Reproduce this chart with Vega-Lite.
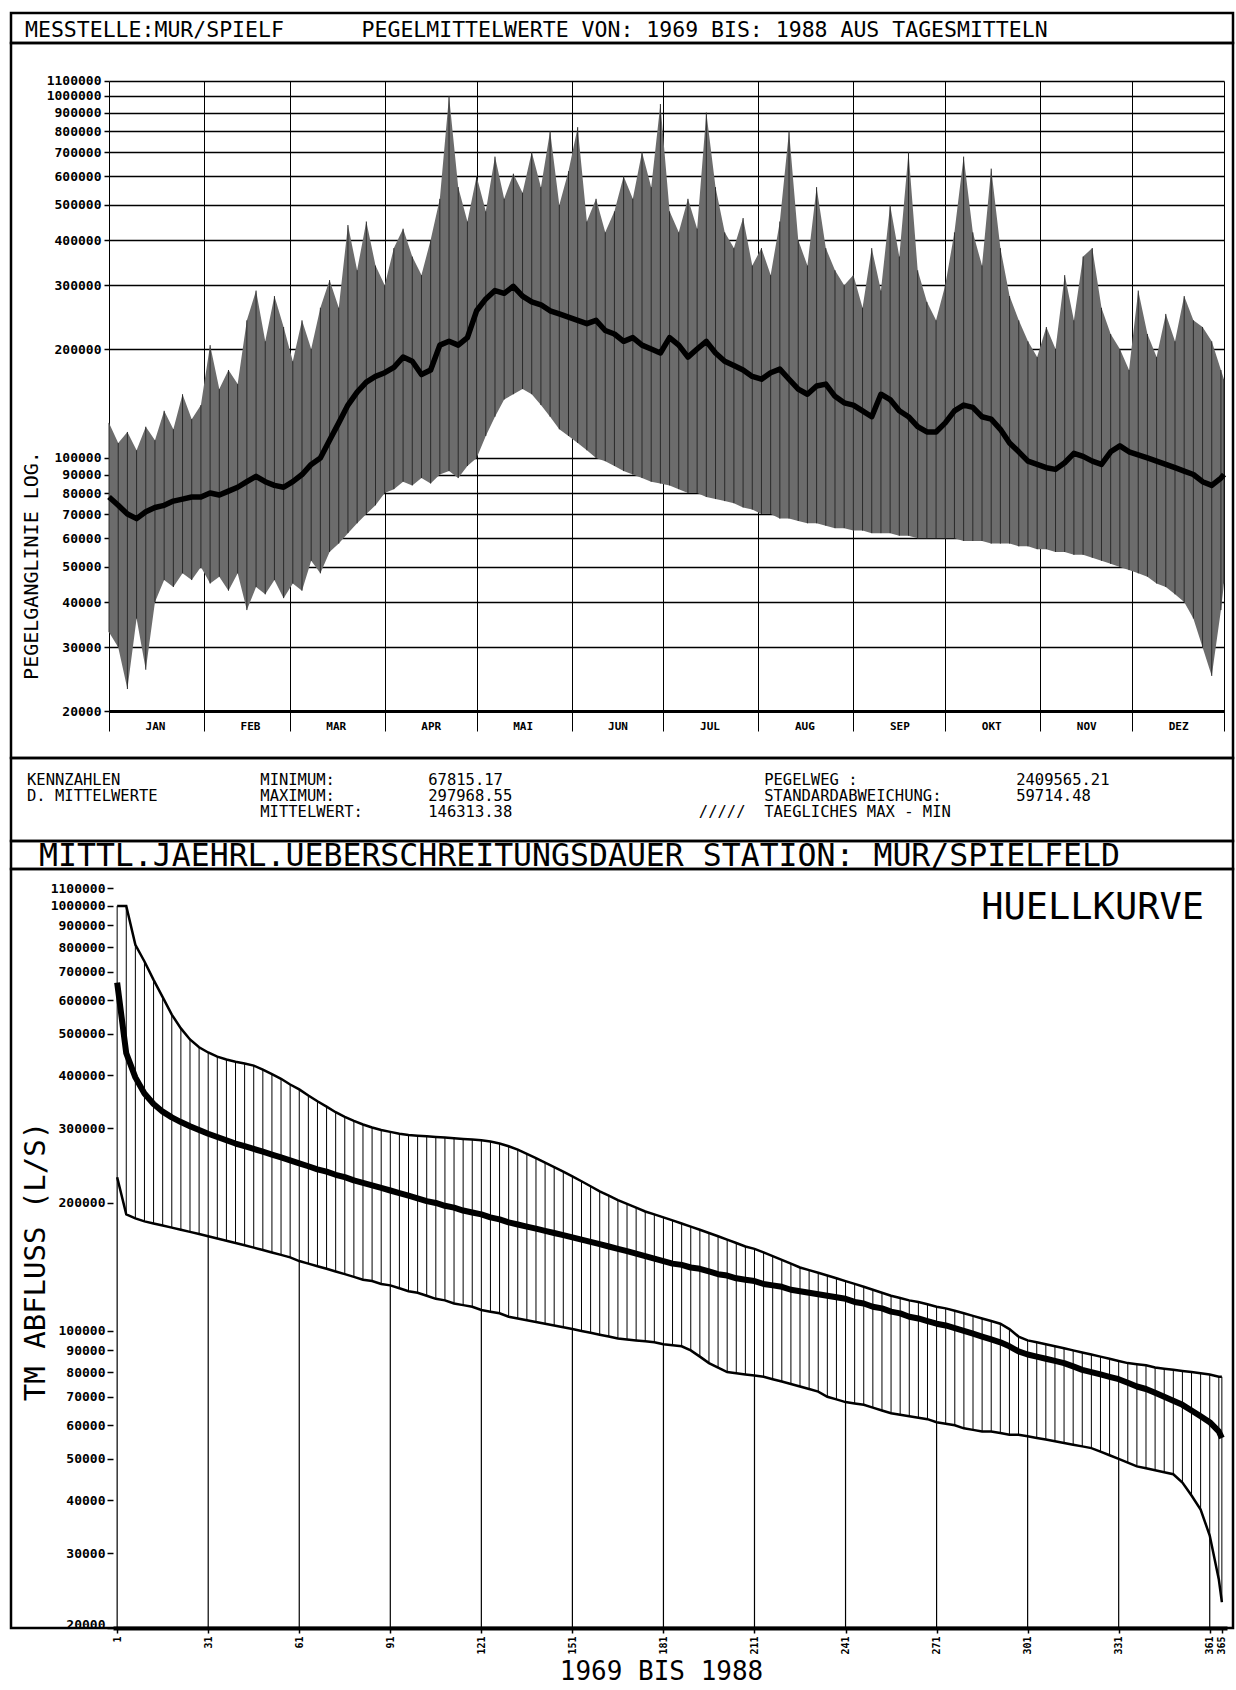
{
  "$schema": "https://vega.github.io/schema/vega-lite/v6.json",
  "background": "white",
  "padding": {"left": 9, "top": 11, "right": 0, "bottom": 0},
  "spacing": 0,
  "bounds": "flush",
  "config": {
    "view": {"stroke": "black", "strokeWidth": 2.5},
    "font": "DejaVu Sans Mono",
    "axis": {"labelFont": "DejaVu Sans Mono", "labelFontWeight": "bold", "labelColor": "black", "tickColor": "black", "tickWidth": 1.5, "titleFont": "DejaVu Sans Mono", "titleFontWeight": "normal", "titleColor": "black", "grid": false, "domain": false, "labelOverlap": false}
  },
  "datasets": {
    "top": [
      {"d":1,"lo":33000,"hi":125000,"m":78000},{"d":4,"lo":30000,"hi":110000,"m":74000},{"d":7,"lo":23000,"hi":118000,"m":70000},{"d":10,"lo":36000,"hi":105000,"m":68000},
      {"d":13,"lo":26000,"hi":122000,"m":71000},{"d":16,"lo":40000,"hi":112000,"m":73000},{"d":19,"lo":46000,"hi":135000,"m":74000},{"d":22,"lo":44000,"hi":120000,"m":76000},
      {"d":25,"lo":48000,"hi":150000,"m":77000},{"d":28,"lo":46000,"hi":128000,"m":78000},{"d":31,"lo":50000,"hi":140000,"m":78000},{"d":34,"lo":45000,"hi":205000,"m":80000},
      {"d":37,"lo":47000,"hi":155000,"m":79000},{"d":40,"lo":43000,"hi":175000,"m":81000},{"d":43,"lo":48000,"hi":160000,"m":83000},{"d":46,"lo":38000,"hi":240000,"m":86000},
      {"d":49,"lo":44000,"hi":290000,"m":89000},{"d":52,"lo":42000,"hi":210000,"m":86000},{"d":55,"lo":46000,"hi":280000,"m":84000},{"d":58,"lo":41000,"hi":230000,"m":83000},
      {"d":61,"lo":45000,"hi":185000,"m":86000},{"d":64,"lo":43000,"hi":240000,"m":90000},{"d":67,"lo":52000,"hi":200000,"m":96000},{"d":70,"lo":48000,"hi":260000,"m":100000},
      {"d":73,"lo":55000,"hi":310000,"m":112000},{"d":76,"lo":58000,"hi":260000,"m":125000},{"d":79,"lo":62000,"hi":440000,"m":140000},{"d":82,"lo":66000,"hi":330000,"m":152000},
      {"d":85,"lo":70000,"hi":450000,"m":162000},{"d":88,"lo":74000,"hi":340000,"m":168000},{"d":91,"lo":80000,"hi":300000,"m":172000},{"d":94,"lo":82000,"hi":380000,"m":178000},
      {"d":97,"lo":86000,"hi":430000,"m":190000},{"d":100,"lo":84000,"hi":360000,"m":185000},{"d":103,"lo":88000,"hi":320000,"m":170000},{"d":106,"lo":85000,"hi":400000,"m":175000},
      {"d":109,"lo":90000,"hi":520000,"m":205000},{"d":112,"lo":92000,"hi":1000000,"m":210000},{"d":115,"lo":88000,"hi":560000,"m":205000},{"d":118,"lo":95000,"hi":450000,"m":215000},
      {"d":121,"lo":100000,"hi":600000,"m":255000},{"d":124,"lo":115000,"hi":480000,"m":275000},{"d":127,"lo":130000,"hi":680000,"m":290000},{"d":130,"lo":145000,"hi":520000,"m":285000},
      {"d":133,"lo":150000,"hi":610000,"m":298000},{"d":136,"lo":155000,"hi":540000,"m":280000},{"d":139,"lo":150000,"hi":700000,"m":270000},{"d":142,"lo":140000,"hi":560000,"m":265000},
      {"d":145,"lo":130000,"hi":800000,"m":255000},{"d":148,"lo":120000,"hi":500000,"m":250000},{"d":151,"lo":115000,"hi":620000,"m":245000},{"d":154,"lo":110000,"hi":820000,"m":240000},
      {"d":157,"lo":105000,"hi":450000,"m":235000},{"d":160,"lo":100000,"hi":520000,"m":240000},{"d":163,"lo":98000,"hi":420000,"m":225000},{"d":166,"lo":95000,"hi":480000,"m":220000},
      {"d":169,"lo":92000,"hi":600000,"m":210000},{"d":172,"lo":90000,"hi":520000,"m":215000},{"d":175,"lo":88000,"hi":700000,"m":205000},{"d":178,"lo":86000,"hi":560000,"m":200000},
      {"d":181,"lo":85000,"hi":950000,"m":195000},{"d":184,"lo":84000,"hi":480000,"m":215000},{"d":187,"lo":82000,"hi":420000,"m":205000},{"d":190,"lo":80000,"hi":520000,"m":190000},
      {"d":193,"lo":80000,"hi":430000,"m":200000},{"d":196,"lo":78000,"hi":900000,"m":210000},{"d":199,"lo":77000,"hi":560000,"m":195000},{"d":202,"lo":76000,"hi":420000,"m":185000},
      {"d":205,"lo":75000,"hi":380000,"m":180000},{"d":208,"lo":73000,"hi":460000,"m":175000},{"d":211,"lo":72000,"hi":340000,"m":168000},{"d":214,"lo":70000,"hi":380000,"m":165000},
      {"d":217,"lo":70000,"hi":320000,"m":172000},{"d":220,"lo":68000,"hi":450000,"m":176000},{"d":223,"lo":68000,"hi":800000,"m":165000},{"d":226,"lo":67000,"hi":400000,"m":155000},
      {"d":229,"lo":66000,"hi":340000,"m":150000},{"d":232,"lo":66000,"hi":560000,"m":158000},{"d":235,"lo":65000,"hi":380000,"m":160000},{"d":238,"lo":64000,"hi":330000,"m":148000},
      {"d":241,"lo":64000,"hi":300000,"m":142000},{"d":244,"lo":63000,"hi":320000,"m":140000},{"d":247,"lo":63000,"hi":260000,"m":135000},{"d":250,"lo":62000,"hi":380000,"m":130000},
      {"d":253,"lo":62000,"hi":290000,"m":150000},{"d":256,"lo":62000,"hi":500000,"m":145000},{"d":259,"lo":61000,"hi":360000,"m":135000},{"d":262,"lo":61000,"hi":700000,"m":130000},
      {"d":265,"lo":60000,"hi":330000,"m":122000},{"d":268,"lo":60000,"hi":270000,"m":118000},{"d":271,"lo":60000,"hi":240000,"m":118000},{"d":274,"lo":60000,"hi":300000,"m":125000},
      {"d":277,"lo":60000,"hi":420000,"m":135000},{"d":280,"lo":59000,"hi":680000,"m":140000},{"d":283,"lo":59000,"hi":420000,"m":138000},{"d":286,"lo":59000,"hi":340000,"m":130000},
      {"d":289,"lo":58000,"hi":630000,"m":128000},{"d":292,"lo":58000,"hi":380000,"m":120000},{"d":295,"lo":58000,"hi":280000,"m":110000},{"d":298,"lo":57000,"hi":240000,"m":104000},
      {"d":301,"lo":57000,"hi":210000,"m":98000},{"d":304,"lo":56000,"hi":190000,"m":96000},{"d":307,"lo":56000,"hi":230000,"m":94000},{"d":310,"lo":55000,"hi":200000,"m":93000},
      {"d":313,"lo":55000,"hi":320000,"m":97000},{"d":316,"lo":54000,"hi":240000,"m":103000},{"d":319,"lo":54000,"hi":360000,"m":101000},{"d":322,"lo":53000,"hi":380000,"m":98000},
      {"d":325,"lo":52000,"hi":260000,"m":96000},{"d":328,"lo":51000,"hi":220000,"m":104000},{"d":331,"lo":50000,"hi":200000,"m":108000},{"d":334,"lo":49000,"hi":175000,"m":104000},
      {"d":337,"lo":48000,"hi":290000,"m":102000},{"d":340,"lo":47000,"hi":220000,"m":100000},{"d":343,"lo":45000,"hi":190000,"m":98000},{"d":346,"lo":44000,"hi":250000,"m":96000},
      {"d":349,"lo":42000,"hi":210000,"m":94000},{"d":352,"lo":40000,"hi":280000,"m":92000},{"d":355,"lo":36000,"hi":240000,"m":90000},{"d":358,"lo":30000,"hi":230000,"m":86000},
      {"d":361,"lo":25000,"hi":210000,"m":84000},{"d":364,"lo":38000,"hi":175000,"m":88000},{"d":365,"lo":45000,"hi":165000,"m":90000}
    ],
    "dur": [
      {"d":1,"hi":1000000,"m":660000,"lo":230000},{"d":4,"hi":1000000,"m":450000,"lo":188000},{"d":7,"hi":810000,"m":395000,"lo":184000},{"d":10,"hi":740000,"m":362000,"lo":181000},
      {"d":13,"hi":670000,"m":342000,"lo":179000},{"d":16,"hi":610000,"m":328000,"lo":177000},{"d":19,"hi":555000,"m":318000,"lo":175000},{"d":22,"hi":515000,"m":310000,"lo":173000},
      {"d":25,"hi":485000,"m":303000,"lo":171000},{"d":28,"hi":465000,"m":297000,"lo":169000},{"d":31,"hi":452000,"m":291000,"lo":167000},{"d":34,"hi":442000,"m":286000,"lo":165000},
      {"d":37,"hi":435000,"m":281000,"lo":163000},{"d":40,"hi":430000,"m":276000,"lo":161000},{"d":43,"hi":426000,"m":272000,"lo":159000},{"d":46,"hi":421000,"m":268000,"lo":157000},
      {"d":49,"hi":412000,"m":264000,"lo":155000},{"d":52,"hi":402000,"m":260000,"lo":153000},{"d":55,"hi":392000,"m":256000,"lo":151000},{"d":58,"hi":380000,"m":252000,"lo":149000},
      {"d":61,"hi":370000,"m":248000,"lo":146000},{"d":64,"hi":358000,"m":244000,"lo":144000},{"d":67,"hi":347000,"m":240000,"lo":142000},{"d":70,"hi":337000,"m":237000,"lo":140000},
      {"d":73,"hi":327000,"m":233000,"lo":138000},{"d":76,"hi":319000,"m":230000,"lo":136000},{"d":79,"hi":312000,"m":226000,"lo":134000},{"d":82,"hi":306000,"m":223000,"lo":132000},
      {"d":85,"hi":301000,"m":220000,"lo":131000},{"d":88,"hi":297000,"m":217000,"lo":129000},{"d":91,"hi":294000,"m":214000,"lo":128000},{"d":94,"hi":291000,"m":211000,"lo":126000},
      {"d":97,"hi":289000,"m":208000,"lo":124000},{"d":100,"hi":288000,"m":205000,"lo":123000},{"d":103,"hi":287000,"m":202000,"lo":121000},{"d":106,"hi":286000,"m":200000,"lo":119000},
      {"d":109,"hi":285000,"m":197000,"lo":118000},{"d":112,"hi":284000,"m":195000,"lo":116000},{"d":115,"hi":283000,"m":192000,"lo":115000},{"d":118,"hi":282000,"m":190000,"lo":114000},
      {"d":121,"hi":281000,"m":188000,"lo":112000},{"d":124,"hi":279000,"m":185000,"lo":111000},{"d":127,"hi":276000,"m":183000,"lo":110000},{"d":130,"hi":272000,"m":180000,"lo":108000},
      {"d":133,"hi":267000,"m":178000,"lo":107000},{"d":136,"hi":261000,"m":176000,"lo":106000},{"d":139,"hi":255000,"m":174000,"lo":105000},{"d":142,"hi":249000,"m":172000,"lo":104000},
      {"d":145,"hi":243000,"m":170000,"lo":103000},{"d":148,"hi":237000,"m":168000,"lo":102000},{"d":151,"hi":231000,"m":166000,"lo":101000},{"d":154,"hi":225000,"m":164000,"lo":100000},
      {"d":157,"hi":219000,"m":162000,"lo":99000},{"d":160,"hi":213000,"m":160000,"lo":98000},{"d":163,"hi":208000,"m":158000,"lo":97000},{"d":166,"hi":203000,"m":156000,"lo":96000},
      {"d":169,"hi":199000,"m":154000,"lo":95500},{"d":172,"hi":195000,"m":152000,"lo":95000},{"d":175,"hi":191000,"m":150000,"lo":94500},{"d":178,"hi":188000,"m":148000,"lo":94000},
      {"d":181,"hi":185000,"m":146000,"lo":93000},{"d":184,"hi":182000,"m":144000,"lo":92500},{"d":187,"hi":179000,"m":143000,"lo":92000},{"d":190,"hi":176000,"m":141000,"lo":90000},
      {"d":193,"hi":173000,"m":140000,"lo":87000},{"d":196,"hi":170000,"m":138000,"lo":84000},{"d":199,"hi":167000,"m":136000,"lo":82000},{"d":202,"hi":164000,"m":135000,"lo":80000},
      {"d":205,"hi":161000,"m":133000,"lo":79500},{"d":208,"hi":158000,"m":132000,"lo":79000},{"d":211,"hi":156000,"m":131000,"lo":78500},{"d":214,"hi":153000,"m":129000,"lo":78000},
      {"d":217,"hi":150000,"m":128000,"lo":77000},{"d":220,"hi":147000,"m":127000,"lo":76000},{"d":223,"hi":144000,"m":125000,"lo":75000},{"d":226,"hi":141000,"m":124000,"lo":74000},
      {"d":229,"hi":139000,"m":123000,"lo":73000},{"d":232,"hi":137000,"m":122000,"lo":72000},{"d":235,"hi":135000,"m":121000,"lo":70000},{"d":238,"hi":133000,"m":120000,"lo":69000},
      {"d":241,"hi":131000,"m":119000,"lo":68000},{"d":244,"hi":129000,"m":117000,"lo":67500},{"d":247,"hi":127000,"m":116000,"lo":67000},{"d":250,"hi":125000,"m":114000,"lo":66000},
      {"d":253,"hi":123000,"m":113000,"lo":65000},{"d":256,"hi":121000,"m":111000,"lo":64000},{"d":259,"hi":119500,"m":110000,"lo":63500},{"d":262,"hi":118000,"m":108000,"lo":63000},
      {"d":265,"hi":117000,"m":107000,"lo":62500},{"d":268,"hi":115500,"m":105500,"lo":62000},{"d":271,"hi":114000,"m":104000,"lo":61000},{"d":274,"hi":113000,"m":103000,"lo":60500},
      {"d":277,"hi":111500,"m":101500,"lo":60000},{"d":280,"hi":110000,"m":100000,"lo":59000},{"d":283,"hi":108500,"m":98500,"lo":58500},{"d":286,"hi":107000,"m":97000,"lo":58000},
      {"d":289,"hi":105500,"m":95500,"lo":58000},{"d":292,"hi":104000,"m":94000,"lo":57500},{"d":295,"hi":101000,"m":92000,"lo":57000},{"d":298,"hi":97000,"m":89500,"lo":57000},
      {"d":301,"hi":95000,"m":88000,"lo":56500},{"d":304,"hi":94000,"m":87000,"lo":56000},{"d":307,"hi":93000,"m":86000,"lo":55500},{"d":310,"hi":92000,"m":85000,"lo":55000},
      {"d":313,"hi":91000,"m":84000,"lo":54500},{"d":316,"hi":90000,"m":82500,"lo":54000},{"d":319,"hi":89000,"m":81000,"lo":53500},{"d":322,"hi":88000,"m":80000,"lo":53000},
      {"d":325,"hi":87000,"m":79000,"lo":52000},{"d":328,"hi":86000,"m":78000,"lo":51000},{"d":331,"hi":85000,"m":77000,"lo":50000},{"d":334,"hi":84000,"m":75500,"lo":49000},
      {"d":337,"hi":83500,"m":74000,"lo":48000},{"d":340,"hi":83000,"m":73000,"lo":47500},{"d":343,"hi":82000,"m":71500,"lo":47000},{"d":346,"hi":81500,"m":70000,"lo":46500},
      {"d":349,"hi":81000,"m":68500,"lo":46000},{"d":352,"hi":80500,"m":67000,"lo":44000},{"d":355,"hi":80000,"m":65000,"lo":41000},{"d":358,"hi":79500,"m":63000,"lo":38000},
      {"d":361,"hi":79000,"m":61000,"lo":33000},{"d":364,"hi":78000,"m":58000,"lo":26000},{"d":365,"hi":78000,"m":56000,"lo":23000}
    ]
  },
  "vconcat": [
    {
      "width": 1222,
      "height": 30,
      "data": {"values": [{"slot": "h", "t": "MESSTELLE:MUR/SPIELF\u00a0\u00a0\u00a0\u00a0\u00a0\u00a0PEGELMITTELWERTE VON: 1969 BIS: 1988 AUS TAGESMITTELN"}]},
      "mark": {"type": "text", "align": "left", "baseline": "middle", "fontSize": 21.5, "font": "DejaVu Sans Mono", "color": "black", "dy": 3},
      "encoding": {
        "x": {"field": "slot", "type": "nominal", "scale": {"type": "point", "range": [14, 1222], "align": 0, "padding": 0}, "axis": null},
        "text": {"field": "t"}
      }
    },
    {
      "width": 1222,
      "height": 715,
      "layer": [
        {
          "data": {"name": "top"},
          "mark": {"type": "area", "color": "#6c6c6c", "opacity": 1},
          "encoding": {
            "x": {"field": "d", "type": "quantitative", "scale": {"domain": [-31, 367.94], "nice": false, "zero": false},
                  "axis": {"values": [1,32,60,91,121,152,182,213,244,274,305,335,365],
                           "labelExpr": "datum.value < 30 ? 'JAN' : datum.value < 59 ? 'FEB' : datum.value < 90 ? 'MAR' : datum.value < 120 ? 'APR' : datum.value < 150 ? 'MAI' : datum.value < 180 ? 'JUN' : datum.value < 210 ? 'JUL' : datum.value < 240 ? 'AUG' : datum.value < 270 ? 'SEP' : datum.value < 300 ? 'OKT' : datum.value < 330 ? 'NOV' : datum.value < 360 ? 'DEZ' : ''",
                           "labelOffset": 46, "offset": -47, "ticks": false, "labelFontSize": 11, "labelPadding": 9, "title": null,
                           "grid": true, "gridColor": "black", "gridWidth": 1, "gridOpacity": 1, "gridDash": [0, 38, 650, 100]}},
            "y": {"field": "hi", "type": "quantitative", "scale": {"type": "log", "domain": [14832, 1400700], "nice": false},
                  "axis": {"values": [20000,30000,40000,50000,60000,70000,80000,90000,100000,200000,300000,400000,500000,600000,700000,800000,900000,1000000,1100000], "format": "d", "offset": -98, "tickSize": 5, "labelFontSize": 13, "labelPadding": 3,
                           "grid": true, "gridColor": "black", "gridOpacity": 1, "gridDash": [0, 98, 1115, 40], "gridWidth": {"condition": {"test": "datum.value == 20000", "value": 3}, "value": 1.3},
                           "title": "PEGELGANGLINIE LOG.", "titleFontSize": 20, "titleX": -78, "titleY": 522, "titleAngle": 270, "titleAlign": "center", "titleBaseline": "middle"}},
            "y2": {"field": "lo"}
          }
        },
        {
          "data": {"name": "top"},
          "mark": {"type": "rule", "color": "#2a2a2a", "strokeWidth": 1},
          "encoding": {
            "x": {"field": "d", "type": "quantitative"},
            "y": {"field": "lo", "type": "quantitative"},
            "y2": {"field": "hi"}
          }
        },
        {
          "data": {"name": "top"},
          "mark": {"type": "line", "color": "black", "strokeWidth": 5.5, "strokeJoin": "round"},
          "encoding": {
            "x": {"field": "d", "type": "quantitative"},
            "y": {"field": "m", "type": "quantitative"}
          }
        }
      ]
    },
    {
      "width": 1222,
      "height": 83,
      "data": {"values": [
        {"slot": "a", "line": 1, "t": "KENNZAHLEN\u00a0\u00a0\u00a0\u00a0\u00a0\u00a0\u00a0\u00a0\u00a0\u00a0\u00a0\u00a0\u00a0\u00a0\u00a0MINIMUM:\u00a0\u00a0\u00a0\u00a0\u00a0\u00a0\u00a0\u00a0\u00a0\u00a067815.17\u00a0\u00a0\u00a0\u00a0\u00a0\u00a0\u00a0\u00a0\u00a0\u00a0\u00a0\u00a0\u00a0\u00a0\u00a0\u00a0\u00a0\u00a0\u00a0\u00a0\u00a0\u00a0\u00a0\u00a0\u00a0\u00a0\u00a0\u00a0PEGELWEG :\u00a0\u00a0\u00a0\u00a0\u00a0\u00a0\u00a0\u00a0\u00a0\u00a0\u00a0\u00a0\u00a0\u00a0\u00a0\u00a0\u00a02409565.21"},
        {"slot": "a", "line": 2, "t": "D. MITTELWERTE\u00a0\u00a0\u00a0\u00a0\u00a0\u00a0\u00a0\u00a0\u00a0\u00a0\u00a0MAXIMUM:\u00a0\u00a0\u00a0\u00a0\u00a0\u00a0\u00a0\u00a0\u00a0\u00a0297968.55\u00a0\u00a0\u00a0\u00a0\u00a0\u00a0\u00a0\u00a0\u00a0\u00a0\u00a0\u00a0\u00a0\u00a0\u00a0\u00a0\u00a0\u00a0\u00a0\u00a0\u00a0\u00a0\u00a0\u00a0\u00a0\u00a0\u00a0STANDARDABWEICHUNG:\u00a0\u00a0\u00a0\u00a0\u00a0\u00a0\u00a0\u00a059714.48"},
        {"slot": "b", "line": 3, "t": "MITTELWERT:\u00a0\u00a0\u00a0\u00a0\u00a0\u00a0\u00a0146313.38\u00a0\u00a0\u00a0\u00a0\u00a0\u00a0\u00a0\u00a0\u00a0\u00a0\u00a0\u00a0\u00a0\u00a0\u00a0\u00a0\u00a0\u00a0\u00a0\u00a0/////\u00a0\u00a0TAEGLICHES MAX - MIN"}
      ]},
      "mark": {"type": "text", "align": "left", "baseline": "middle", "fontSize": 15.5, "font": "DejaVu Sans Mono", "color": "black"},
      "encoding": {
        "x": {"field": "slot", "type": "nominal", "scale": {"type": "point", "domain": ["a", "b"], "range": [16, 249.25], "padding": 0}, "axis": null},
        "y": {"field": "line", "type": "ordinal", "scale": {"type": "point", "range": [22, 54], "padding": 0}, "axis": null},
        "text": {"field": "t"}
      }
    },
    {
      "width": 1222,
      "height": 28,
      "data": {"values": [{"slot": "t", "t": "MITTL.JAEHRL.UEBERSCHREITUNGSDAUER STATION: MUR/SPIELFELD"}]},
      "mark": {"type": "text", "align": "left", "baseline": "middle", "fontSize": 31.5, "font": "DejaVu Sans Mono", "color": "black", "dy": 2},
      "encoding": {
        "x": {"field": "slot", "type": "nominal", "scale": {"type": "point", "range": [28, 1222], "align": 0, "padding": 0}, "axis": null},
        "text": {"field": "t"}
      }
    },
    {
      "width": 1222,
      "height": 759,
      "title": {"text": "HUELLKURVE", "anchor": "end", "frame": "group", "orient": "top", "offset": -58, "dx": -29, "fontSize": 37, "font": "DejaVu Sans Mono", "fontWeight": "normal", "color": "black"},
      "layer": [
        {
          "data": {"name": "dur"},
          "mark": {"type": "rule", "color": "black", "strokeWidth": 1},
          "encoding": {
            "x": {"field": "d", "type": "quantitative", "scale": {"domain": [-32.33, 367.02], "nice": false, "zero": false},
                  "axis": {"values": [1,31,61,91,121,151,181,211,241,271,301,331,361,365], "tickSize": 5, "labelAngle": 270, "labelFontSize": 10, "labelPadding": 3, "title": "1969 BIS 1988", "titleFontSize": 26, "titleX": 650, "titleY": 43, "titleAlign": "center", "titleBaseline": "middle"}},
            "y": {"field": "lo", "type": "quantitative", "scale": {"type": "log", "domain": [20000, 1221300], "nice": false},
                  "axis": {"values": [20000,30000,40000,50000,60000,70000,80000,90000,100000,200000,300000,400000,500000,600000,700000,800000,900000,1000000,1100000], "format": "d", "offset": -102, "tickSize": 6, "labelFontSize": 13, "labelPadding": 2,
                           "labelBaseline": {"condition": {"test": "datum.value == 20000", "value": "alphabetic"}, "value": "middle"},
                           "grid": true, "gridColor": "black", "gridWidth": 4, "gridDash": [0, 102, 1114, 40], "gridOpacity": {"condition": {"test": "datum.value == 20000", "value": 1}, "value": 0},
                           "title": "TM ABFLUSS (L/S)", "titleFontSize": 29, "titleX": -78, "titleY": 392, "titleAngle": 270, "titleAlign": "center", "titleBaseline": "middle"}},
            "y2": {"field": "hi"}
          }
        },
        {
          "data": {"name": "dur"},
          "transform": [{"filter": "datum.d % 30 == 1"}],
          "mark": {"type": "bar", "color": "black", "width": 1.2, "orient": "vertical"},
          "encoding": {
            "x": {"field": "d", "type": "quantitative"},
            "y": {"field": "lo", "type": "quantitative", "stack": null}
          }
        },
        {
          "data": {"name": "dur"},
          "mark": {"type": "line", "color": "black", "strokeWidth": 2.5},
          "encoding": {
            "x": {"field": "d", "type": "quantitative"},
            "y": {"field": "hi", "type": "quantitative"}
          }
        },
        {
          "data": {"name": "dur"},
          "mark": {"type": "line", "color": "black", "strokeWidth": 2.5},
          "encoding": {
            "x": {"field": "d", "type": "quantitative"},
            "y": {"field": "lo", "type": "quantitative"}
          }
        },
        {
          "data": {"name": "dur"},
          "mark": {"type": "line", "color": "black", "strokeWidth": 6, "strokeJoin": "round"},
          "encoding": {
            "x": {"field": "d", "type": "quantitative"},
            "y": {"field": "m", "type": "quantitative"}
          }
        }
      ]
    },
    {
      "width": 1222,
      "height": 59,
      "data": {"values": [{}]},
      "mark": {"type": "text", "text": ""}
    }
  ]
}
